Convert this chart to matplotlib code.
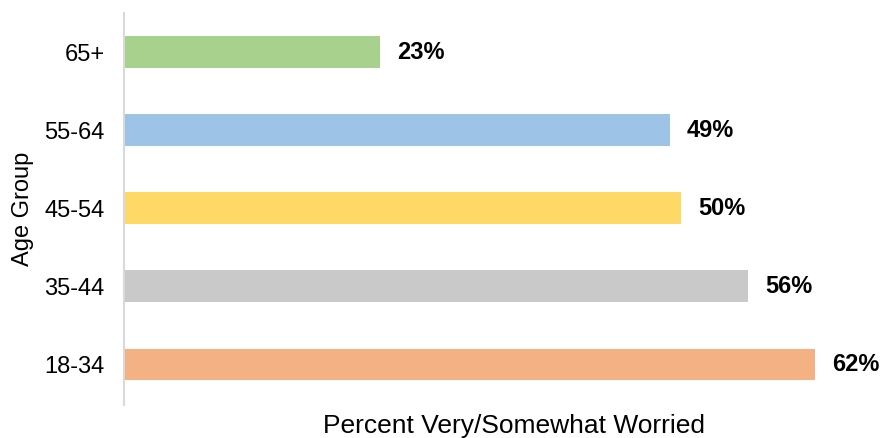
import matplotlib.pyplot as plt

plt.rcParams['font.family'] = ['Liberation Sans', 'DejaVu Sans']

ages = ['18-34', '35-44', '45-54', '55-64', '65+']
worried = [62, 56, 50, 49, 23]
colors = ['#f4b183', '#c9c9c9', '#ffd966', '#9dc3e6', '#a9d18e']

fig = plt.figure(figsize=(8.81, 4.38), dpi=100)
ax = fig.add_axes([124 / 881, 33 / 438, 1 - 124 / 881, 392 / 438])

pos = range(len(ages))
ax.barh(pos, worried, height=0.405, color=colors)
for p, v in zip(pos, worried):
    ax.text(v + 1.5, p, f'{v}%', va='center', ha='left', fontsize=17, fontweight='bold')

ax.set_xlim(0, 67.9)
ax.set_ylim(-0.52, 4.5)
ax.set_yticks(list(pos))
ax.set_yticklabels(ages, fontsize=17)
ax.set_xticks([])
ax.tick_params(axis='y', length=0, pad=14)
for s in ['top', 'right', 'bottom']:
    ax.spines[s].set_visible(False)
ax.spines['left'].set_color('#d9d9d9')
ax.spines['left'].set_linewidth(1.5)

ax.set_ylabel('Age Group', fontsize=17)
ax.yaxis.set_label_coords(-90 / 757, 0.5)
fig.text(514 / 881, 1 - 426 / 438, 'Percent Very/Somewhat Worried', fontsize=19, ha='center', va='center')

fig.savefig('out.png', dpi=100)
